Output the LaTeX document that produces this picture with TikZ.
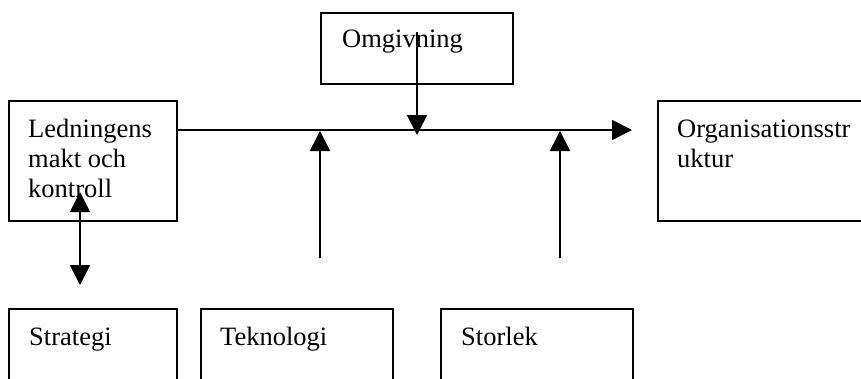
\documentclass[tikz,border=0pt]{standalone}
\usepackage{fontspec}
\setmainfont{Liberation Serif}
\usetikzlibrary{arrows.meta}
\begin{document}
\begin{tikzpicture}[x=1pt,y=-1pt,
  boxstyle/.style={draw=black,line width=1.6pt,rectangle,inner sep=0pt,anchor=north west},
  lbl/.style={anchor=base west,inner sep=0pt,font=\fontsize{26.5}{30}\selectfont,align=left},
  conn/.style={line width=1.6pt,-{Triangle[width=20pt,length=20pt]}},
  dconn/.style={line width=1.6pt,{Triangle[width=20pt,length=20pt]}-{Triangle[width=20pt,length=20pt]}}]
\useasboundingbox (0,0) rectangle (861,378);
\clip (0,0) rectangle (861,378);
% boxes
\node[boxstyle,minimum width=192pt,minimum height=71pt] (omg) at (320,12) {};
\node[boxstyle,minimum width=168pt,minimum height=120pt] (led) at (8,100) {};
\node[boxstyle,minimum width=240pt,minimum height=120pt] (org) at (657,100) {};
\node[boxstyle,minimum width=168pt,minimum height=120pt] (str) at (8,308) {};
\node[boxstyle,minimum width=192pt,minimum height=120pt] (tek) at (200,308) {};
\node[boxstyle,minimum width=192pt,minimum height=120pt] (sto) at (440,308) {};
% labels (base = baseline of last line)
\node[lbl] (tomg) at (342,47) {Omgivning};
\node[lbl] (tled) at (28,197) {Ledningens\\makt och\\kontroll};
\node[lbl] (torg) at (677,167) {Organisationsstr\\uktur};
\node[lbl] (tstr) at (29,345) {Strategi};
\node[lbl] (ttek) at (220,345) {Teknologi};
\node[lbl] (tsto) at (461,345) {Storlek};
% coordinates
\coordinate (hend) at (632,130);
\coordinate (omgstart) at (417,32);
\coordinate (omgend) at (417,135);
\coordinate (tekstart) at (320,258);
\coordinate (tekend) at (320,131);
\coordinate (stostart) at (560,258);
\coordinate (stoend) at (560,131);
\coordinate (dtop) at (80,192);
\coordinate (dbot) at (80,285);
% connectors
\draw[conn] (led.east |- hend) -- (hend);
\draw[conn] (omgstart) -- (omgend);
\draw[conn] (tekstart) -- (tekend);
\draw[conn] (stostart) -- (stoend);
\draw[dconn] (dtop) -- (dbot);
\end{tikzpicture}
\end{document}
